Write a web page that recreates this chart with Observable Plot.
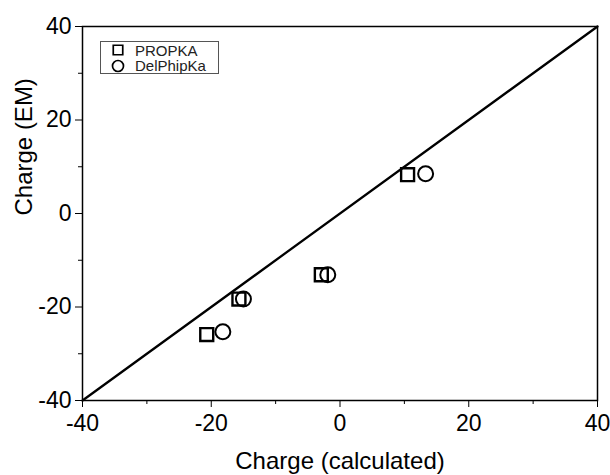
<!DOCTYPE html>
<html>
<head>
<meta charset="utf-8">
<script src="https://cdn.jsdelivr.net/npm/d3@7"></script>
<script src="https://cdn.jsdelivr.net/npm/@observablehq/plot@0.6"></script>
<style>
  html, body { margin: 0; padding: 0; background: #fff; }
  #wrap { position: relative; width: 610px; height: 475px; }
  #legend { position: absolute; left: 100px; top: 41px; width: 119px; height: 33px;
    border: 1px solid #555; background: #fff; font-family: "Liberation Sans", Arial, sans-serif;
    font-size: 15px; color: #222; box-sizing: border-box; }
  #legend .row { position: absolute; left: 0; height: 16px; display: flex; align-items: center; }
  #legend svg { margin-left: 10px; margin-right: 10px; }
</style>
</head>
<body>
<div id="wrap">
  <div id="chart"></div>
  <div id="legend"></div>
</div>
<script>
// Data
const seriesNames = ["PROPKA", "DelPhipKa"];
const propkaX = [-20.7, -15.7, -2.9, 10.5];
const propkaY = [-25.9, -18.3, -13.1, 8.3];
const delphiX = [-18.2, -15.0, -1.9, 13.3];
const delphiY = [-25.3, -18.3, -13.1, 8.5];
const axisDomain = [-40, 40];
const majorTicks = [-40, -20, 0, 20, 40];
const minorTicks = [-30, -10, 10, 30];
const xLabel = "Charge (calculated)";
const yLabel = "Charge (EM)";

const propka = propkaX.map((x, i) => ({x, y: propkaY[i]}));
const delphi = delphiX.map((x, i) => ({x, y: delphiY[i]}));

const font = "'Liberation Sans', Arial, sans-serif";

const chart = Plot.plot({
  width: 610,
  height: 475,
  marginLeft: 82,
  marginRight: 13,
  marginTop: 26,
  marginBottom: 75,
  style: {fontFamily: font, color: "#000", background: "#fff", overflow: "visible"},
  x: {domain: axisDomain},
  y: {domain: axisDomain},
  marks: [
    Plot.line(axisDomain, {x: d => d, y: d => d, stroke: "#000", strokeWidth: 2.3}),
    Plot.frame({stroke: "#000", strokeWidth: 1.5}),
    Plot.axisX({ticks: majorTicks, tickSize: 7, tickPadding: 7, fontSize: 23, label: null, tickFormat: d => String(d)}),
    Plot.axisX({ticks: minorTicks, tickSize: 4, text: null, label: null}),
    Plot.axisY({ticks: majorTicks, tickSize: 7, tickPadding: 4, fontSize: 23, label: null, tickFormat: d => String(d)}),
    Plot.axisY({ticks: minorTicks, tickSize: 4, text: null, label: null}),
    Plot.dot(delphi, {x: "x", y: "y", symbol: "circle", r: 7.5, stroke: "#000", strokeWidth: 2, fill: "none"}),
    Plot.dot(propka, {x: "x", y: "y", symbol: "square", r: 7.3, stroke: "#000", strokeWidth: 2.4, fill: "none"}),
    Plot.text([xLabel], {frameAnchor: "bottom", dy: 68, fontSize: 24, fill: "#000"}),
    Plot.text([yLabel], {frameAnchor: "left", dx: -58, dy: 2, rotate: -90, fontSize: 24, fill: "#000"})
  ]
});
document.getElementById("chart").appendChild(chart);

// Legend
const legend = document.getElementById("legend");
const symbols = {PROPKA: d3.symbolSquare, DelPhipKa: d3.symbolCircle};
seriesNames.forEach((name, i) => {
  const row = document.createElement("div");
  row.className = "row";
  row.style.top = (0 + i * 15.5) + "px";
  const svg = d3.create("svg").attr("width", 14).attr("height", 14);
  svg.append("path")
    .attr("transform", "translate(7,7)")
    .attr("d", d3.symbol(symbols[name], name === "PROPKA" ? 90 : 95)())
    .attr("fill", "none").attr("stroke", "#000").attr("stroke-width", 1.7);
  row.appendChild(svg.node());
  const span = document.createElement("span");
  span.textContent = name;
  row.appendChild(span);
  legend.appendChild(row);
});
</script>
</body>
</html>
